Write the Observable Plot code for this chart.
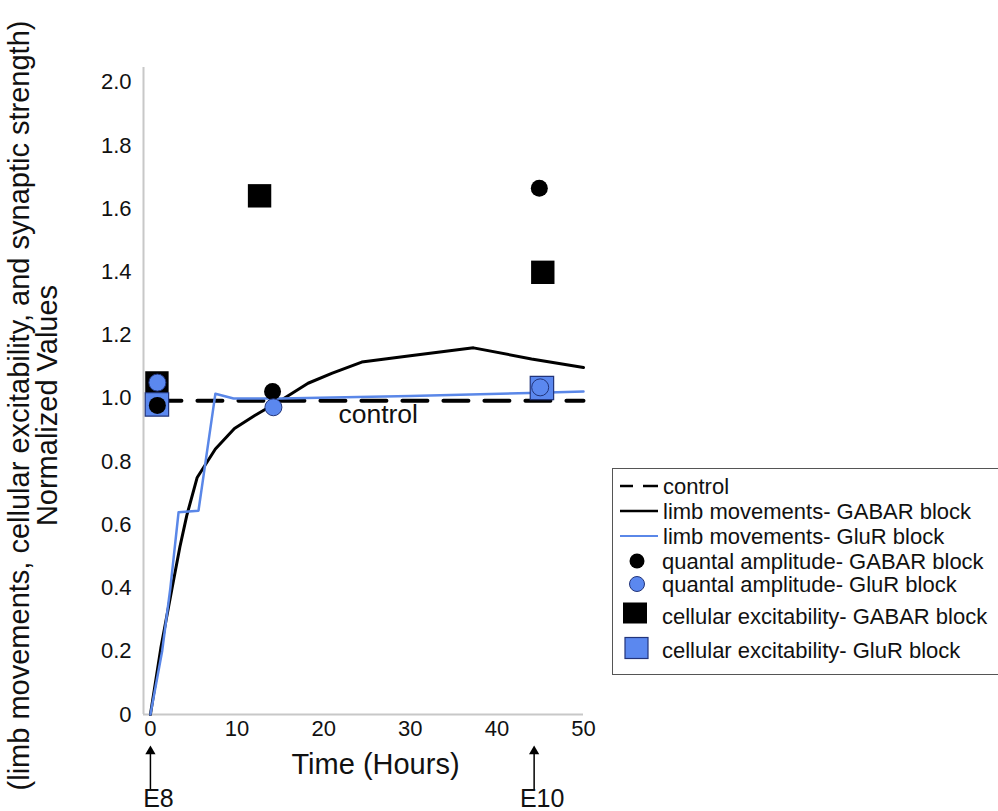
<!DOCTYPE html>
<html><head><meta charset="utf-8">
<script src="https://cdn.jsdelivr.net/npm/d3@7"></script>
<script src="https://cdn.jsdelivr.net/npm/@observablehq/plot@0.6"></script>
<style>
html,body{margin:0;padding:0;background:#fff;overflow:hidden;}
#wrap{position:relative;width:998px;height:811px;overflow:hidden;font-family:"Liberation Sans",Arial,sans-serif;}
#legend{position:absolute;left:612px;top:468px;width:420px;height:207px;border:1.5px solid #555;box-sizing:border-box;background:#fff;}
#legend svg{position:absolute;left:0;top:0;overflow:visible;}
</style></head><body><div id="wrap"></div>
<script>
const FONT = '"Liberation Sans", Arial, sans-serif';

// axes
const xDomain = [-0.8, 50];
const yDomain = [0, 2.047];
const xTicks = [0, 10, 20, 30, 40, 50];
const yTicks = [0, 0.2, 0.4, 0.6, 0.8, 1.0, 1.2, 1.4, 1.6, 1.8, 2.0];
const xTitle = "Time (Hours)";
const yTitle1 = "Normalized Values";
const yTitle2 = "(limb movements, cellular excitability, and synaptic strength)";

// control
const controlHours = [0, 50];
const controlValues = [0.993, 0.993];
const controlLabel = "control";
const controlLabelHour = 26.3;

// limb movements - GABAR block
const gabaLimbHours = [0, 1.2, 2.5, 3.4, 4.2, 5.4, 7.5, 9.7, 12, 15.4, 18.2, 21, 24.4, 30, 37.3, 44, 50];
const gabaLimbValues = [0, 0.21, 0.40, 0.53, 0.63, 0.75, 0.84, 0.905, 0.945, 1.0, 1.048, 1.08, 1.115, 1.135, 1.16, 1.125, 1.098];

// limb movements - GluR block
const gluLimbHours = [0, 1.35, 2.3, 3.25, 5.55, 7.5, 9.6, 15, 30, 45, 50];
const gluLimbValues = [0, 0.2, 0.4, 0.64, 0.645, 1.015, 1.0, 1.0, 1.008, 1.018, 1.022];

// quantal amplitude
const quantalGabaHours = [0.8, 14.1, 44.9];
const quantalGabaValues = [0.978, 1.022, 1.665];
const quantalGluHours = [0.8, 14.2, 45.0];
const quantalGluValues = [1.05, 0.972, 1.035];

// cellular excitability
const cellGabaHours = [0.75, 12.6, 45.3];
const cellGabaValues = [1.049, 1.641, 1.399];
const cellGluHours = [0.75, 45.2];
const cellGluValues = [0.981, 1.033];

// developmental stages
const stageLabels = ["E8", "E10"];
const stageHours = [0, 44.3];

// legend
const legendLabels = [
  "control",
  "limb movements- GABAR block",
  "limb movements- GluR block",
  "quantal amplitude- GABAR block",
  "quantal amplitude- GluR block",
  "cellular excitability- GABAR block",
  "cellular excitability- GluR block"
];

const BLUE_LINE = "#5a87e8";
const BLUE_FILL = "#5b88ef";
const BLUE_EDGE = "#22347a";

const rows = (xs, ys) => xs.map((x, i) => ({x, y: ys[i]}));
const stages = stageHours.map((x, i) => ({x, label: stageLabels[i]}));

const plot = Plot.plot({
  width: 998, height: 811,
  marginLeft: 143, marginRight: 415, marginTop: 67, marginBottom: 97,
  x: {domain: xDomain},
  y: {domain: yDomain},
  style: {fontFamily: FONT, fontSize: "22px", color: "#111", background: "#fff", overflow: "visible"},
  marks: [
    Plot.ruleY([0], {stroke: "#c8c8c8", strokeWidth: 2}),
    Plot.ruleX([xDomain[0]], {stroke: "#c8c8c8", strokeWidth: 2}),
    Plot.axisX({ticks: xTicks, tickSize: 0, tickPadding: 6, label: null}),
    Plot.axisY({ticks: yTicks, tickSize: 0, tickPadding: 12, label: null, tickFormat: d => d === 0 ? "0" : d.toFixed(1)}),
    Plot.line(rows(controlHours, controlValues), {x: "x", y: "y", stroke: "#000", strokeWidth: 4, strokeDasharray: "25,16", strokeDashoffset: 35}),
    Plot.line(rows(gabaLimbHours, gabaLimbValues), {x: "x", y: "y", stroke: "#000", strokeWidth: 3}),
    Plot.line(rows(gluLimbHours, gluLimbValues), {x: "x", y: "y", stroke: BLUE_LINE, strokeWidth: 2.5}),
    Plot.dot(rows(cellGabaHours, cellGabaValues), {x: "x", y: "y", symbol: "square", r: 13.2, fill: "#000"}),
    Plot.dot(rows(cellGluHours, cellGluValues), {x: "x", y: "y", symbol: "square", r: 13.2, fill: BLUE_FILL, stroke: BLUE_EDGE, strokeWidth: 1.2}),
    Plot.dot(rows(quantalGabaHours, quantalGabaValues), {x: "x", y: "y", r: 8.5, fill: "#000"}),
    Plot.dot(rows(quantalGluHours, quantalGluValues), {x: "x", y: "y", r: 8.5, fill: BLUE_FILL, stroke: BLUE_EDGE, strokeWidth: 1}),
    Plot.text([{x: controlLabelHour, y: controlValues[0], t: controlLabel}], {x: "x", y: "y", text: "t", dy: 13.5, fontSize: 26.5}),
    Plot.ruleX(stages, {x: "x", stroke: "#000", strokeWidth: 1.5, insetTop: 683, insetBottom: -76}),
    Plot.dot(stages, {x: "x", frameAnchor: "bottom", dy: 36.8, symbol: "triangle", r: 3.8, fill: "#000"}),
    Plot.text(stages, {x: "x", text: "label", frameAnchor: "bottom", lineAnchor: "middle", textAnchor: "middle", dy: 84, dx: 8, fontSize: 25}),
    Plot.text([xTitle], {text: d => d, frameAnchor: "bottom", lineAnchor: "middle", textAnchor: "middle", dy: 50, dx: 12, fontSize: 29}),
    Plot.text([yTitle1], {text: d => d, frameAnchor: "left", textAnchor: "middle", lineAnchor: "middle", rotate: -90, dx: -96, dy: 14.5, fontSize: 29}),
    Plot.text([yTitle2], {text: d => d, frameAnchor: "left", textAnchor: "middle", lineAnchor: "middle", rotate: -90, dx: -124, dy: 14.5, fontSize: 29})
  ]
});

const wrap = document.getElementById("wrap");
wrap.appendChild(plot);

// legend box
const legend = document.createElement("div");
legend.id = "legend";
wrap.appendChild(legend);
const ls = d3.select(legend).append("svg").attr("width", 420).attr("height", 207)
  .style("font-family", FONT).style("font-size", "22px");
const rowY = [17, 42, 67, 92, 115, 145, 179];
const kinds = ["dash", "line", "bline", "dot", "bdot", "sq", "bsq"];
kinds.forEach((k, i) => {
  const y = rowY[i];
  const g = ls.append("g");
  if (k === "dash") {
    g.append("line").attr("x1", 7).attr("x2", 20).attr("y1", y).attr("y2", y).attr("stroke", "#000").attr("stroke-width", 2.5);
    g.append("line").attr("x1", 30).attr("x2", 45).attr("y1", y).attr("y2", y).attr("stroke", "#000").attr("stroke-width", 2.5);
  } else if (k === "line") {
    g.append("line").attr("x1", 7).attr("x2", 45).attr("y1", y).attr("y2", y).attr("stroke", "#000").attr("stroke-width", 2.5);
  } else if (k === "bline") {
    g.append("line").attr("x1", 7).attr("x2", 45).attr("y1", y).attr("y2", y).attr("stroke", BLUE_LINE).attr("stroke-width", 2);
  } else if (k === "dot") {
    g.append("circle").attr("cx", 24).attr("cy", y).attr("r", 7.5).attr("fill", "#000");
  } else if (k === "bdot") {
    g.append("circle").attr("cx", 24).attr("cy", y).attr("r", 7.5).attr("fill", BLUE_FILL).attr("stroke", BLUE_EDGE).attr("stroke-width", 1);
  } else if (k === "sq") {
    g.append("rect").attr("x", 10).attr("y", y - 11.5).attr("width", 24).attr("height", 21).attr("fill", "#000");
  } else if (k === "bsq") {
    g.append("rect").attr("x", 12).attr("y", y - 10.5).attr("width", 23).attr("height", 21).attr("fill", BLUE_FILL).attr("stroke", BLUE_EDGE).attr("stroke-width", 1.2);
  }
  g.append("text").attr("x", i < 3 ? 50 : 49).attr("y", i >= 5 ? y + 2 : y).attr("dy", "0.35em").attr("fill", "#111").text(legendLabels[i]);
});
</script>
</body></html>
